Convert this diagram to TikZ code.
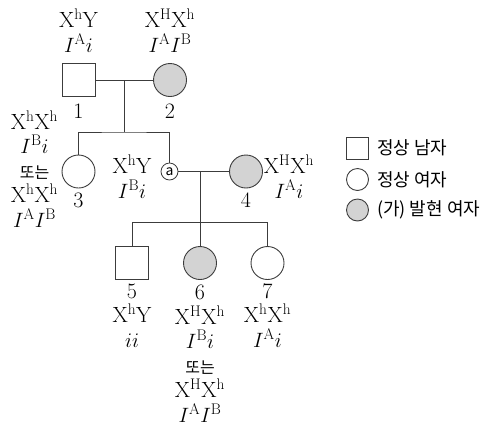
\documentclass[tikz,border=0pt]{standalone}
\usepackage{fontspec}
\newfontfamily\kr{Noto Sans CJK KR}
\usetikzlibrary{calc}
\definecolor{lne}{HTML}{3C3C3C}
\definecolor{shade}{HTML}{D3D3D3}
\tikzset{
  male/.style={draw=lne, line width=0.9pt, rectangle, minimum size=33pt, inner sep=0pt},
  female/.style={draw=lne, line width=0.9pt, circle, minimum size=33pt, inner sep=0pt},
  affected/.style={female, fill=shade},
  geno/.style={align=center, inner sep=0pt, anchor=base, font=\fontsize{22}{24.5}\selectfont},
  legend/.style={anchor=west, inner sep=0pt, font=\kr\fontsize{18}{20}\selectfont},
}
\newcommand{\ordu}{{\kr\fontsize{16}{20}\selectfont 또는}}
\begin{document}
\begin{tikzpicture}[x=1pt,y=-1pt]
\useasboundingbox (0,0) rectangle (489,429);
\node[male] (p1) at (78.5,80) {};
\node[affected] (p2) at (170,80) {};
\node[female] (p3) at (78.5,171.5) {};
\node[draw=lne, line width=0.8pt, circle, minimum size=17pt, inner sep=0pt, font=\kr\fontsize{14}{14}\selectfont] (pa) at (169.5,171.5) {a};
\node[affected] (p4) at (246,171.5) {};
\node[male] (p5) at (132,263) {};
\node[affected] (p6) at (200,263) {};
\node[female] (p7) at (267.5,263) {};
\coordinate (c12) at (124.3,80);
\coordinate (b12) at (124.3,132);
\coordinate (ca4) at (200,171.5);
\coordinate (b56) at (200,222.3);
\draw[lne, line width=0.9pt] (p1) -- (p2);
\draw[lne, line width=0.9pt] (c12) -- (b12);
\draw[lne, line width=0.9pt] (p3) |- (b12) -| (pa);
\draw[lne, line width=0.9pt] (pa) -- (p4);
\draw[lne, line width=0.9pt] (ca4) -- (p6);
\draw[lne, line width=0.9pt] (p5) |- (b56) -| (p7);
\node[geno] (g1) at (78.5,52) {$\mathrm{X^hY}$\\$I^{\mathrm{A}}i$};
\node[geno] (g2) at (170,52) {$\mathrm{X^HX^h}$\\$I^{\mathrm{A}}I^{\mathrm{B}}$};
\node[geno] (n1) at (78.5,118) {1};
\node[geno] (n2) at (170,118) {2};
\node[geno] (g3) at (34.5,227) {$\mathrm{X^hX^h}$\\$I^{\mathrm{B}}i$\\\ordu\\$\mathrm{X^hX^h}$\\$I^{\mathrm{A}}I^{\mathrm{B}}$};
\node[geno] (n3) at (78.5,207) {3};
\node[geno] (ga) at (132,198) {$\mathrm{X^hY}$\\$I^{\mathrm{B}}i$};
\node[geno] (n4) at (246,207) {4};
\node[geno] (g4) at (289,198) {$\mathrm{X^HX^h}$\\$I^{\mathrm{A}}i$};
\node[geno] (g5) at (132,347) {5\\$\mathrm{X^hY}$\\$ii$};
\node[geno] (g6) at (200,422) {6\\$\mathrm{X^HX^h}$\\$I^{\mathrm{B}}i$\\\ordu\\$\mathrm{X^HX^h}$\\$I^{\mathrm{A}}I^{\mathrm{B}}$};
\node[geno] (g7) at (267.5,347) {7\\$\mathrm{X^hX^h}$\\$I^{\mathrm{A}}i$};
\node[male, minimum size=22pt] (l1) at (357.5,148) {};
\node[female, minimum size=22pt] (l2) at (357.5,179.5) {};
\node[affected, minimum size=22pt] (l3) at (357.5,210) {};
\node[legend] (t1) at ($(l1.east)+(8,0)$) {정상 남자};
\node[legend] (t2) at ($(l2.east)+(8,0)$) {정상 여자};
\node[legend] (t3) at ($(l3.east)+(8,0)$) {(가) 발현 여자};
\end{tikzpicture}
\end{document}
